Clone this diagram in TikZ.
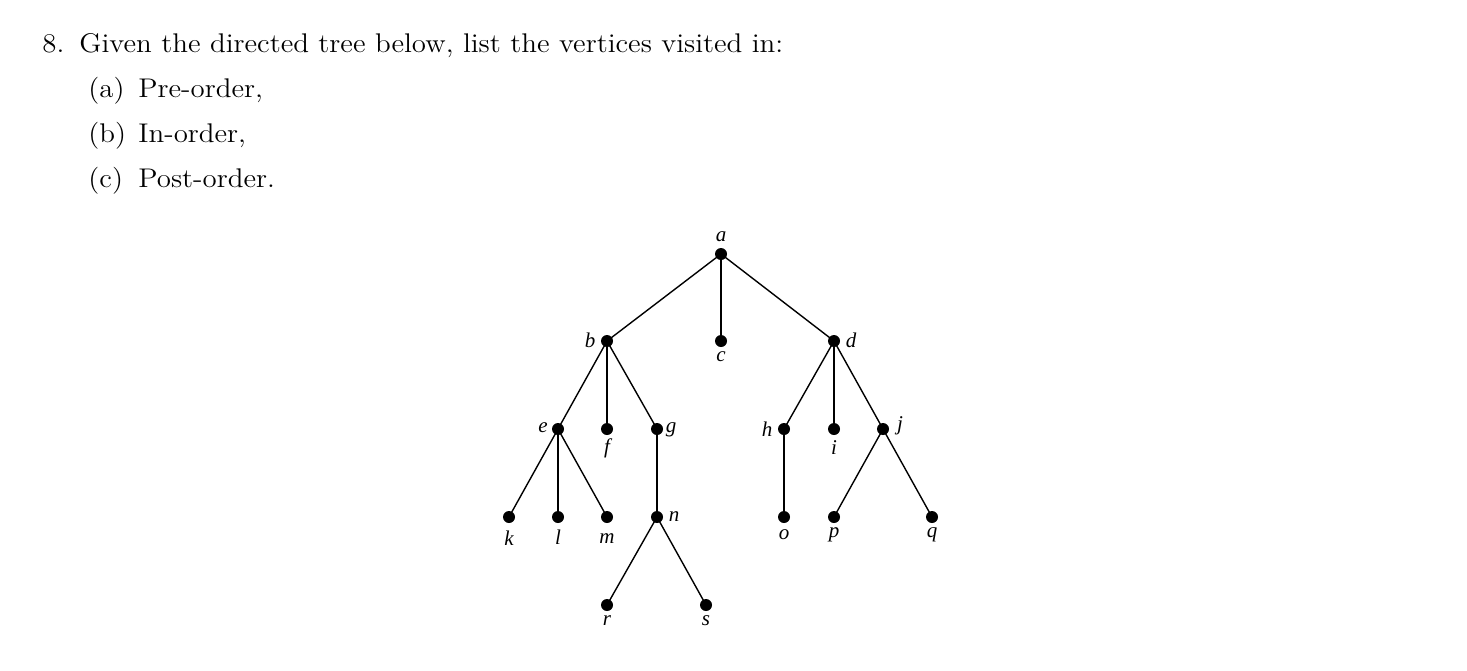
\documentclass[tikz,border=0pt]{standalone}
\usepackage{fontspec}
\newfontfamily\lbl{Liberation Serif}
\begin{document}
\begin{tikzpicture}[x=0.5pt,y=-0.5pt,
  txt/.style={anchor=base west,inner sep=0pt,xscale=1.07,transform shape,font=\fontsize{13.5}{15}\selectfont},
  vert/.style={circle,fill=black,inner sep=0pt,minimum size=6pt},
  lab/.style={inner sep=0pt,font=\lbl\itshape\fontsize{10.5}{12}\selectfont},
  edge/.style={line width=0.7pt}]
\useasboundingbox (0,0) rectangle (1467,670);
% question text
\node[txt] (q8) at (42,52) {8.};
\node[txt] (qt) at (79,52) {Given the directed tree below, list the vertices visited in:};
\node[txt] (ia) at (88,97) {(a)};
\node[txt] (ta) at (138,97) {Pre-order,};
\node[txt] (ib) at (88,142) {(b)};
\node[txt] (tb) at (138,142) {In-order,};
\node[txt] (ic) at (88,187) {(c)};
\node[txt] (tc) at (138,187) {Post-order.};
% vertices
\node[vert] (a) at (721,254) {};
\node[vert] (b) at (607,341) {};
\node[vert] (c) at (721,341) {};
\node[vert] (d) at (834,341) {};
\node[vert] (e) at (558,429) {};
\node[vert] (f) at (607,429) {};
\node[vert] (g) at (657,429) {};
\node[vert] (h) at (784,429) {};
\node[vert] (i) at (834,429) {};
\node[vert] (j) at (883,429) {};
\node[vert] (k) at (509,517) {};
\node[vert] (l) at (558,517) {};
\node[vert] (m) at (607,517) {};
\node[vert] (n) at (657,517) {};
\node[vert] (o) at (784,517) {};
\node[vert] (p) at (834,517) {};
\node[vert] (qq) at (932,517) {};
\node[vert] (r) at (607,605) {};
\node[vert] (s) at (706,605) {};
% edges
\draw[edge] (a.center) -- (b.center);
\draw[edge] (a.center) -- (c.center);
\draw[edge] (a.center) -- (d.center);
\draw[edge] (b.center) -- (e.center);
\draw[edge] (b.center) -- (f.center);
\draw[edge] (b.center) -- (g.center);
\draw[edge] (d.center) -- (h.center);
\draw[edge] (d.center) -- (i.center);
\draw[edge] (d.center) -- (j.center);
\draw[edge] (e.center) -- (k.center);
\draw[edge] (e.center) -- (l.center);
\draw[edge] (e.center) -- (m.center);
\draw[edge] (g.center) -- (n.center);
\draw[edge] (h.center) -- (o.center);
\draw[edge] (j.center) -- (p.center);
\draw[edge] (j.center) -- (qq.center);
\draw[edge] (n.center) -- (r.center);
\draw[edge] (n.center) -- (s.center);
% labels
\node[lab] (la) at (721,237) {a};
\node[lab] (lb) at (590,340) {b};
\node[lab] (lc) at (721,357) {c};
\node[lab] (ld) at (851,340) {d};
\node[lab] (le) at (543,428) {e};
\node[lab] (lf) at (607,448) {f};
\node[lab] (lg) at (671,430) {g};
\node[lab] (lh) at (767,429) {h};
\node[lab] (li) at (834,448) {i};
\node[lab] (lj) at (900,426) {j};
\node[lab] (lk) at (509,538) {k};
\node[lab] (ll) at (558,537) {l};
\node[lab] (lm) at (607,539) {m};
\node[lab] (ln) at (674,517) {n};
\node[lab] (lo) at (784,535) {o};
\node[lab] (lp) at (834,535) {p};
\node[lab] (lq) at (932,535) {q};
\node[lab] (lr) at (607,621) {r};
\node[lab] (ls) at (706,621) {s};
\end{tikzpicture}
\end{document}
